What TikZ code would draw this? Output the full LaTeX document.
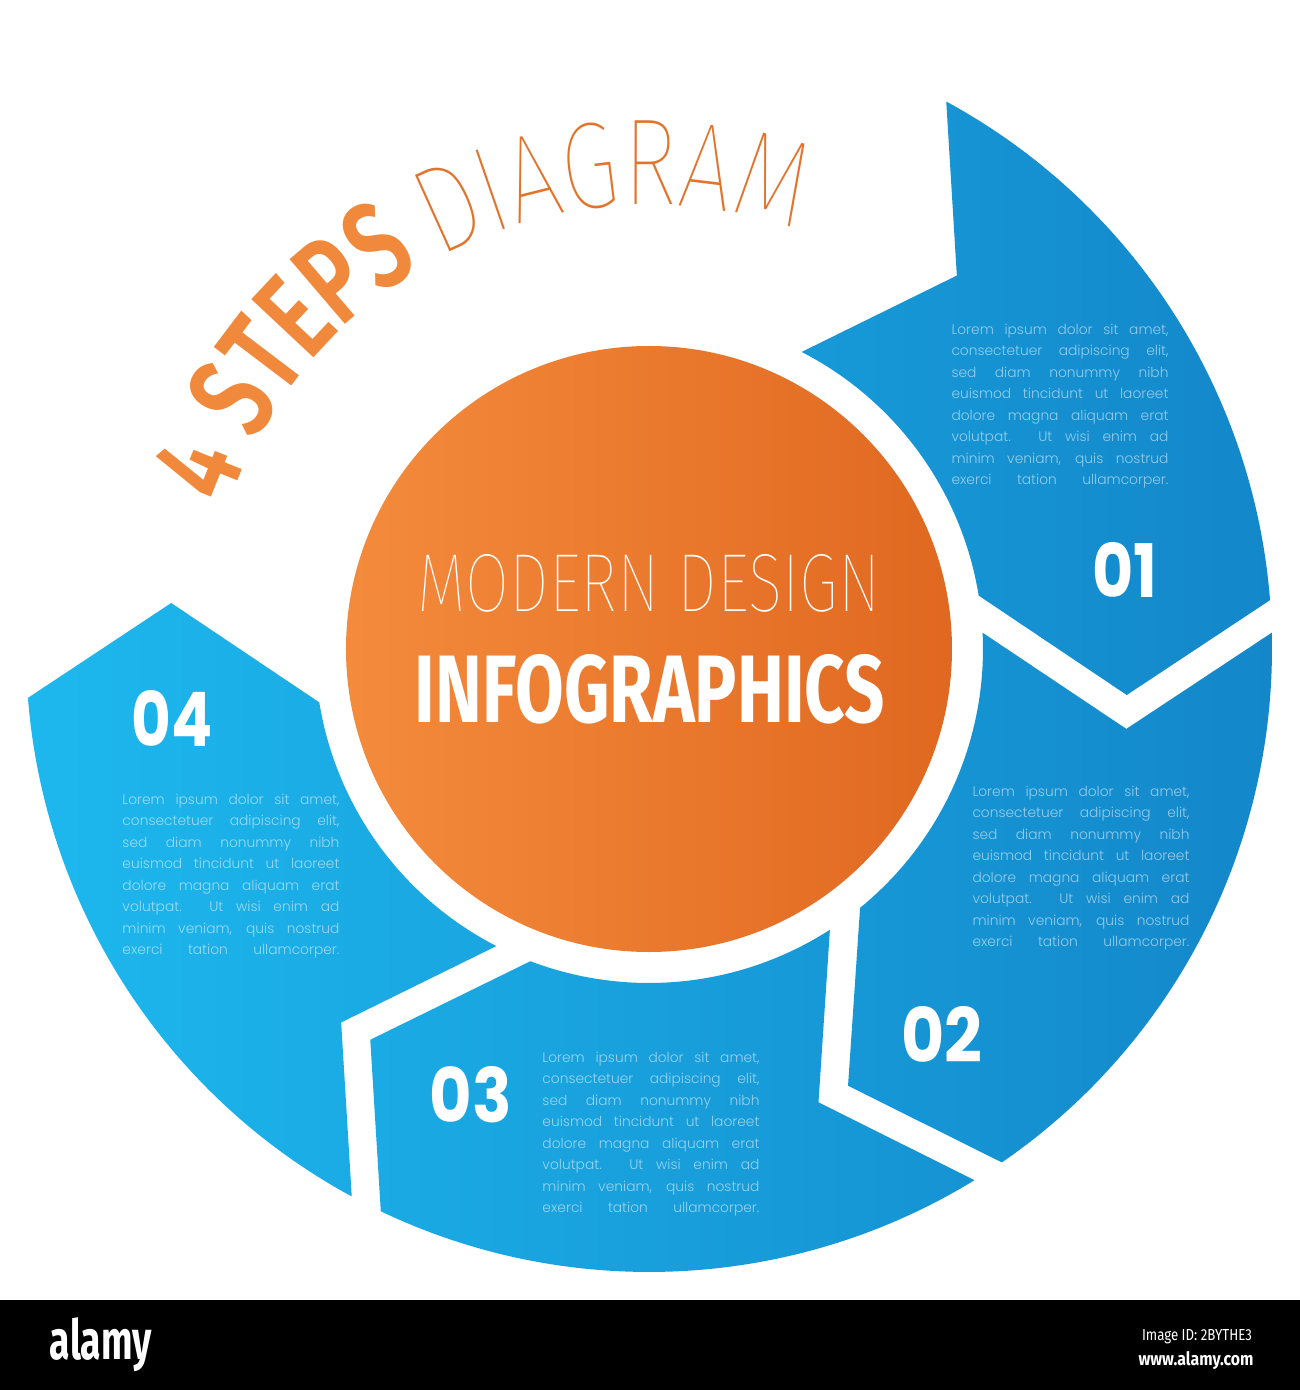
\documentclass[tikz,border=0pt]{standalone}
\usepackage{fontspec}
\usepackage{xcolor}
\usepackage{graphicx}
\usetikzlibrary{decorations.text}

\setmainfont{Fira Sans}
\newfontfamily\thinfont{Fira Sans}[UprightFont={* Thin}]
\newfontfamily\heavyfont{Fira Sans}[UprightFont={* Bold}]
\newfontfamily\titlebold{Fira Sans}[UprightFont={* SemiBold}, FakeStretch=0.71]
\newfontfamily\titlethin{Fira Sans}[UprightFont={* Thin}, FakeStretch=0.76]
\newfontfamily\numfont{Poppins}[UprightFont={* Bold}]
\newfontfamily\loremfont{Poppins}[UprightFont={* Light}, WordSpace=1.6]

\definecolor{ringleft}{HTML}{1DB8EE}
\definecolor{ringright}{HTML}{1387CA}
\definecolor{discleft}{HTML}{F48B3C}
\definecolor{discright}{HTML}{E06820}
\definecolor{titlelight}{HTML}{F0893C}
\definecolor{titledark}{HTML}{E2732B}

\newcommand{\lline}[1]{\makebox[217pt][s]{#1}}
\newcommand{\loremtext}{\lline{Lorem ipsum dolor sit amet,}\\\lline{consectetuer adipiscing elit,}\\\lline{sed diam nonummy nibh}\\\lline{euismod tincidunt ut laoreet}\\\lline{dolore magna aliquam erat}\\\lline{volutpat. Ut wisi enim ad}\\\lline{minim veniam, quis nostrud}\\\lline{exerci tation ullamcorper.}}

\tikzset{
	lorem/.style={align=left, inner sep=0pt, text=white, text opacity=0.55, font=\loremfont\fontsize{13.8}{21.5}\selectfont},
	stepnum/.style={inner sep=0pt, text=white},
	barlabel/.style={inner sep=0pt, text=white}
}

\begin{document}
\begin{tikzpicture}[x=1pt, y=1pt]
	\useasboundingbox (-649,-741) rectangle (651,649);
	\fill [white] (-649,-741) rectangle (651,649);
	\begin{scope}
		\clip \foreach \n in {50.5,-9.5,-69.5,-129.5} {({\n+11}:623) arc [start angle={\n+11}, end angle={\n-46}, radius=623] -- ({\n-56}:480) -- ({\n-41.3}:334) arc [start angle={\n-41.3}, end angle={\n+12.3}, radius=334] -- (\n:484) -- cycle};
		\shade [left color=ringleft, right color=ringright] (-623,-623) rectangle (623,623);
	\end{scope}
	\shade [left color=discleft, right color=discright] (0,0) circle [radius=303];
	\path [decorate, decoration={text along path, text align=center, text={|\titlebold\fontsize{123}{130}\selectfont\color{titlelight}|4 STEPS |\titlethin\fontsize{123}{130}\selectfont\color{titledark}|DIAGRAM}}] (172.4:444) arc [start angle=172.4, end angle=59.4, radius=444];
	\node [stepnum] (modern) at (0,66) {\resizebox{462pt}{57pt}{\thinfont MODERN DESIGN}};
	\node [stepnum] (info) at (1,-40) {\resizebox{470pt}{68pt}{\heavyfont INFOGRAPHICS}};
	\node [stepnum] (num1) at (476,79) {\resizebox{65pt}{55pt}{\numfont 01}};
	\node [stepnum] (num2) at (293,-385) {\resizebox{81pt}{56pt}{\numfont 02}};
	\node [stepnum] (num3) at (-178,-446) {\resizebox{82pt}{56pt}{\numfont 03}};
	\node [stepnum] (num4) at (-477,-69) {\resizebox{81pt}{56pt}{\numfont 04}};
	\node [lorem] (text1) at (411,243) {\loremtext};
	\node [lorem] (text2) at (432,-219) {\loremtext};
	\node [lorem] (text3) at (2,-485) {\loremtext};
	\node [lorem] (text4) at (-418,-227) {\loremtext};
	\fill [black] (-649,-651) rectangle (651,-741);
	\node [barlabel] (logo) at (-548,-696) {\resizebox*{102pt}{54pt}{\heavyfont alamy}};
	\node [barlabel] (imageid) at (548,-688) {\resizebox{110pt}{11pt}{Image ID: 2BYTHE3}};
	\node [barlabel] (website) at (547,-712) {\resizebox{115pt}{14pt}{\heavyfont www.alamy.com}};
\end{tikzpicture}
\end{document}
